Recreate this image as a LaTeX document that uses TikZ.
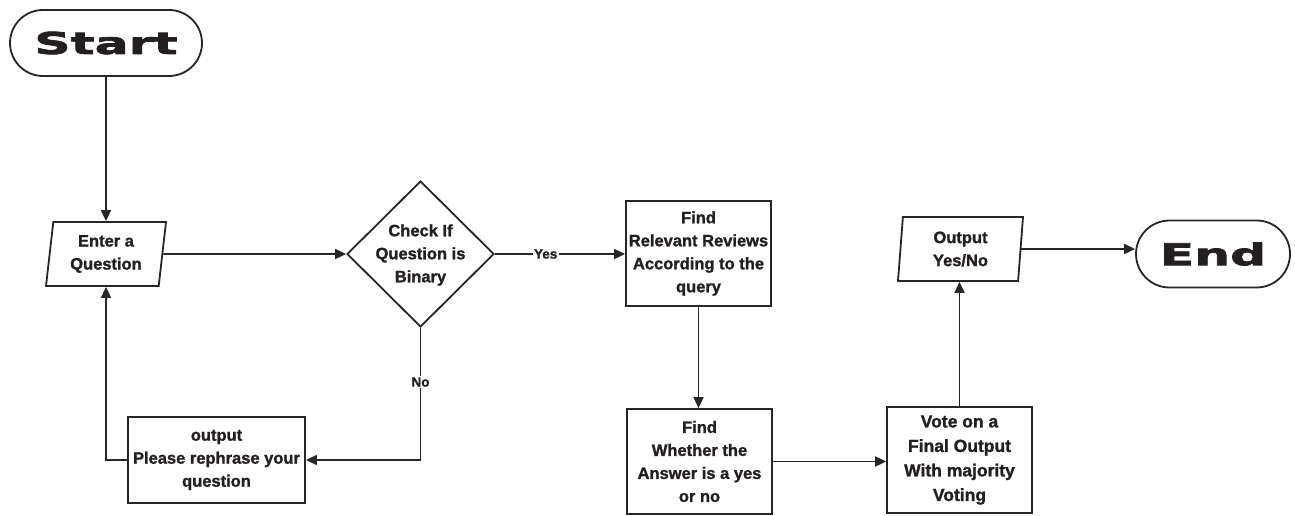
\documentclass[tikz,border=0pt]{standalone}
\usepackage{fontspec}
\setmainfont{Liberation Sans}
\newfontfamily\heavyfont[FakeBold=1.3]{Liberation Sans}
\newfontfamily\widefont[FakeStretch=1.68,FakeBold=2.5]{DejaVu Sans}
\usetikzlibrary{shapes.geometric,shapes.misc,arrows.meta}
\definecolor{txt}{HTML}{231F20}
\definecolor{ln}{HTML}{262626}
\begin{document}
\begin{tikzpicture}[x=1pt,y=-1pt,
  every node/.style={inner sep=0pt, text=txt},
  lbl/.style={font=\heavyfont\bfseries\fontsize{16.5}{23}\selectfont, align=center},
  terminal/.style={rounded rectangle, draw=ln, line width=1.8pt, font=\widefont\bfseries\fontsize{30}{30}\selectfont},
  procbox/.style={rectangle, draw=ln, line width=1.8pt, lbl},
  iobox/.style={trapezium, trapezium stretches body, draw=ln, line width=1.8pt, lbl},
  decbox/.style={diamond, draw=ln, line width=1.8pt},
  conn/.style={draw=ln, line width=1.8pt, -{Triangle[length=11pt,width=10pt]}},
  plain/.style={draw=ln, line width=1.8pt},
  edgelbl/.style={fill=white, inner sep=1.5pt, font=\heavyfont\bfseries\fontsize{13.5}{15}\selectfont}
]
\useasboundingbox[fill=white] (0,0) rectangle (1295,516);

\node[terminal, minimum width=192pt, minimum height=66pt] (start) at (106,43) {Start};
\node[iobox, trapezium left angle=79, trapezium right angle=101, minimum width=120pt, minimum height=64pt] (enter) at (106,254) {Enter a\\Question};
\node[decbox, minimum width=147pt, minimum height=146pt] (dia) at (420.5,254) {};
\node[lbl] (diatext) at (420.5,255) {Check If\\Question is\\Binary};
\node[procbox, minimum width=145pt, minimum height=105pt] (find1) at (698.5,253.5) {Find\\Relevant Reviews\\According to the\\query};
\node[procbox, minimum width=145pt, minimum height=105pt] (find2) at (699.5,461.5) {Find\\Whether the\\Answer is a yes\\or no};
\node[procbox, minimum width=145pt, minimum height=106pt, font=\heavyfont\bfseries\fontsize{17.5}{24.5}\selectfont] (vote) at (959.5,460) {Vote on a\\Final Output\\With majority\\Voting};
\node[iobox, trapezium left angle=82, trapezium right angle=98, minimum width=125pt, minimum height=64pt] (out) at (960.5,249) {Output\\Yes/No};
\node[terminal, minimum width=154pt, minimum height=67pt] (end) at (1213,254) {End};
\node[procbox, minimum width=177pt, minimum height=86pt] (reph) at (216.5,460) {output\\Please rephrase your\\question};

\coordinate (nocorner) at (dia.south |- reph.east);

\draw[conn] (start.south) -- (start.south |- enter.north);
\draw[conn] (enter.east) -- (dia.west);
\draw[conn] (dia.east) -- node[edgelbl, pos=0.39] {Yes} (dia.east -| find1.west);
\draw[conn] (find1.south) -- (find1.south |- find2.north);
\draw[conn] (find2.east) -- (find2.east -| vote.west);
\draw[conn] (vote.north) -- (vote.north |- out.south);
\draw[conn] (out.east) -- (out.east -| end.west);
\draw[plain] (dia.south) -- node[edgelbl, pos=0.41] {No} (nocorner);
\draw[conn] (nocorner) -- (reph.east);
\draw[conn] (reph.west) -| (enter.south);
\end{tikzpicture}
\end{document}
